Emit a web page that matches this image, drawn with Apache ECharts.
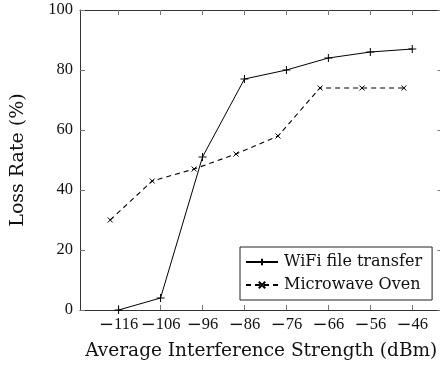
<!DOCTYPE html>
<html>
<head>
<meta charset="utf-8">
<script src="https://cdn.jsdelivr.net/npm/echarts@6/dist/echarts.min.js"></script>
<style>
  html, body { margin: 0; padding: 0; background: #fff; }
  #chart { width: 440px; height: 368px; }
</style>
</head>
<body>
<div id="chart"></div>
<script>
// Loss rate vs. average interference strength for two interference sources
const wifiX = [-116, -106, -96, -86, -76, -66, -56, -46];
const wifiLoss = [0, 4, 51, 77, 80, 84, 86, 87];
const ovenX = [-118, -108, -98, -88, -78, -68, -58, -48];
const ovenLoss = [30, 43, 47, 52, 58, 74, 74, 74];
const xTicks = [-116, -106, -96, -86, -76, -66, -56, -46];
const yTicks = [0, 20, 40, 60, 80, 100];

const TEXT_FONT = 'DejaVu Serif';
const NUM_FONT = 'Liberation Serif';
const AXIS = '#333';
const TICK = '#777';

const plus = 'path://M0,5L10,5M5,0L5,10';
const cross = 'path://M0,0L10,10M0,10L10,0';

const chart = echarts.init(document.getElementById('chart'), null, { renderer: 'canvas' });

const xAxisBase = {
  type: 'value',
  min: -125.2,
  max: -38.8,
  axisLine: { show: true, onZero: false, lineStyle: { color: AXIS, width: 1 } },
  axisTick: { show: true, inside: true, length: 5, customValues: xTicks, lineStyle: { color: TICK, width: 1 } },
  splitLine: { show: false }
};

const yAxisBase = {
  type: 'value', min: 0, max: 100, interval: 20,
  axisLine: { show: true, lineStyle: { color: AXIS, width: 1 } },
  axisTick: { show: true, inside: true, length: 5, customValues: yTicks, lineStyle: { color: TICK } },
  splitLine: { show: false }
};

chart.setOption({
  animation: false,
  textStyle: { fontFamily: TEXT_FONT },
  grid: { left: 80, top: 10, width: 362.5, height: 300, containLabel: false, outerBoundsMode: 'none' },
  legend: {
    orient: 'vertical',
    left: 240, top: 247,
    padding: [7, 10, 7, 5],
    itemGap: 7,
    itemWidth: 32, itemHeight: 8,
    borderColor: '#222', borderWidth: 1,
    backgroundColor: '#fff',
    textStyle: { fontFamily: TEXT_FONT, fontSize: 16, color: '#111', padding: [0, 0, 0, 1] },
    data: ['WiFi file transfer', 'Microwave Oven']
  },
  xAxis: [
    Object.assign({}, xAxisBase, {
      position: 'bottom',
      name: 'Average Interference Strength (dBm)',
      nameLocation: 'middle',
      nameGap: 32,
      nameTextStyle: { fontFamily: TEXT_FONT, fontSize: 18.5, color: '#111' },
      axisLabel: {
        show: true, customValues: xTicks, margin: 6,
        hideOverlap: false,
        color: '#111',
        formatter: v => v < 0 ? '{m|\u2212}{d|' + Math.abs(v) + '}' : '{d|' + v + '}',
        rich: {
          m: { fontFamily: TEXT_FONT, fontSize: 18, color: '#111' },
          d: { fontFamily: NUM_FONT, fontSize: 16.5, color: '#111' }
        }
      }
    }),
    Object.assign({}, xAxisBase, {
      position: 'top',
      axisLabel: { show: false }
    })
  ],
  yAxis: [
    Object.assign({}, yAxisBase, {
      position: 'left',
      name: 'Loss Rate (%)',
      nameLocation: 'middle',
      nameGap: 52,
      nameRotate: 90,
      nameTextStyle: { fontFamily: TEXT_FONT, fontSize: 19, color: '#111' },
      axisLabel: { margin: 7, fontFamily: NUM_FONT, fontSize: 16.5, color: '#111' }
    }),
    Object.assign({}, yAxisBase, {
      position: 'right',
      axisLabel: { show: false }
    })
  ],
  series: [
    {
      name: 'WiFi file transfer',
      type: 'line',
      data: wifiX.map((x, i) => [x, wifiLoss[i]]),
      symbol: plus, symbolSize: 8,
      itemStyle: { color: '#000', borderColor: '#000', borderWidth: 1 },
      lineStyle: { color: '#000', width: 1 },
      z: 3
    },
    {
      name: 'Microwave Oven',
      type: 'line',
      data: ovenX.map((x, i) => [x, ovenLoss[i]]),
      symbol: cross, symbolSize: 5,
      itemStyle: { color: '#000', borderColor: '#000', borderWidth: 1 },
      lineStyle: { color: '#000', width: 1.1, type: [5, 4] },
      z: 2
    }
  ]
});
</script>
</body>
</html>
